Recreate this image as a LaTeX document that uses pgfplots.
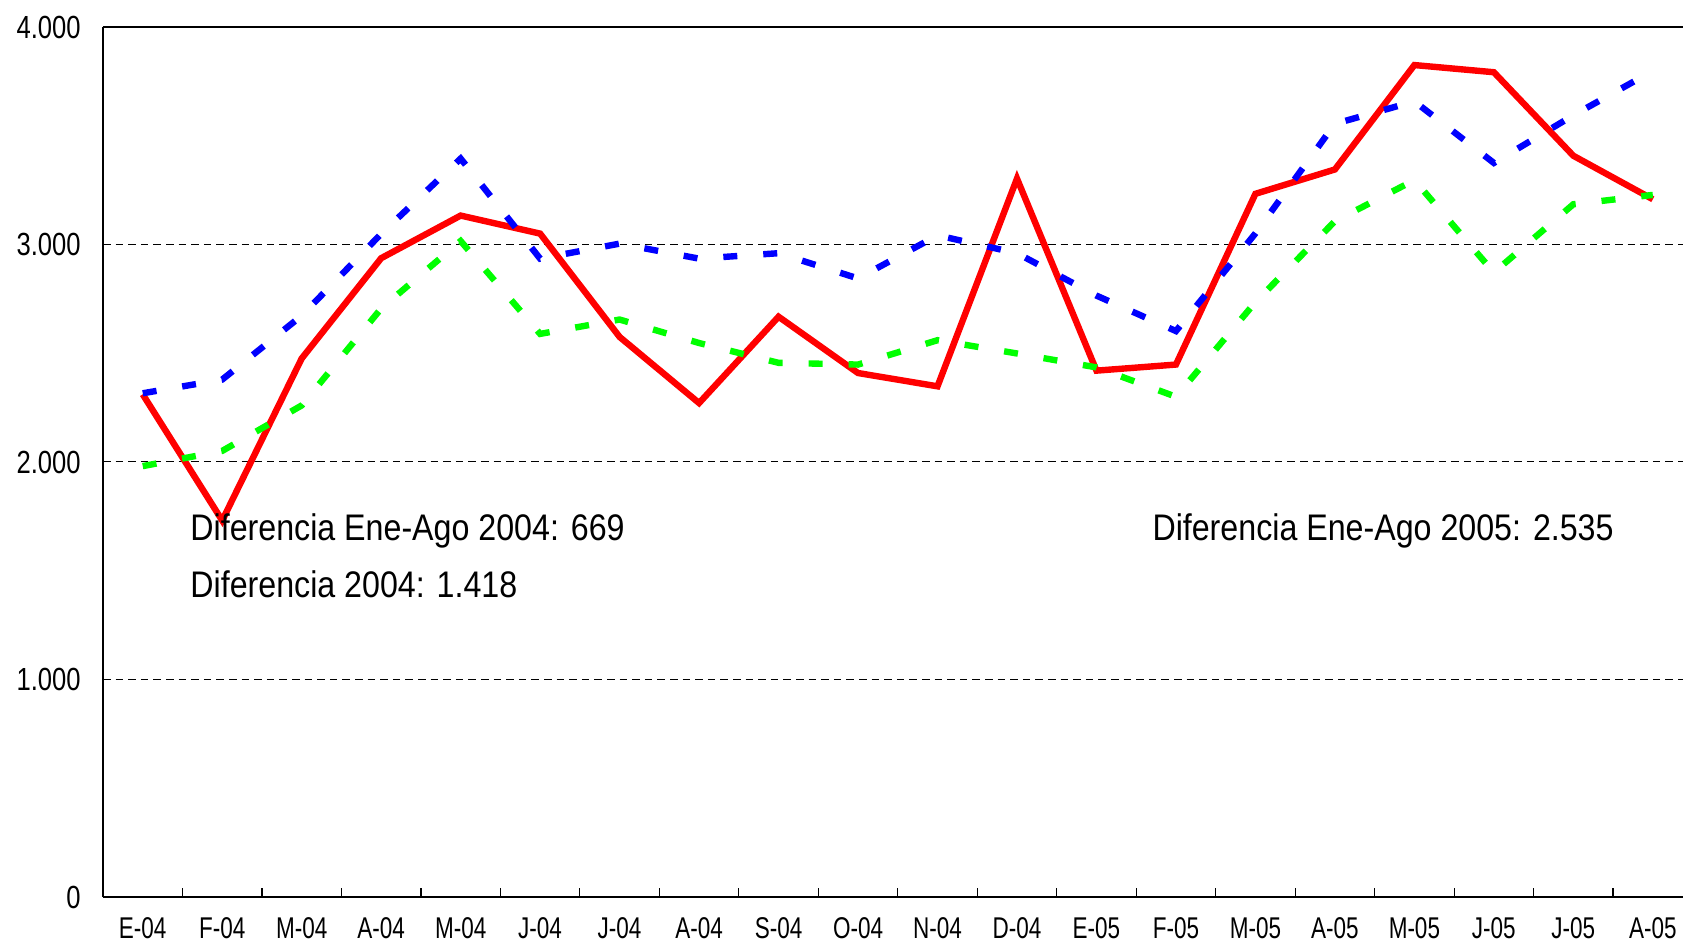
\documentclass[border=0pt]{standalone}
\usepackage{pgfplots}
\pgfplotsset{compat=1.18}
\usepackage{fontspec}
\setmainfont{Liberation Sans}
\newfontfamily\annfont{Liberation Sans}[FakeStretch=0.87]
\newfontfamily\ytickfont{Liberation Sans}[FakeStretch=0.8]
\newfontfamily\xtickfont{Liberation Sans}[FakeStretch=0.75]
\definecolor{cred}{RGB}{255,0,0}
\definecolor{cblue}{RGB}{0,0,255}
\definecolor{cgreen}{RGB}{0,255,0}
\begin{document}
\begin{tikzpicture}
\begin{axis}[
  name=ax,
  scale only axis, width=790pt, height=435pt,
  xmin=-0.5, xmax=19.38, ymin=0, ymax=4000,
  axis x line=box, axis y line=left, axis line style={-},
  x axis line style={line width=1.3pt},
  y axis line style={line width=0.8pt},
  xtick={0,...,19},
  xticklabels={E-04,F-04,M-04,A-04,M-04,J-04,J-04,A-04,S-04,O-04,N-04,D-04,E-05,F-05,M-05,A-05,M-05,J-05,J-05,A-05},
  major x tick style={draw=none},
  minor xtick={0.5,1.5,...,18.5},
  minor x tick style={black, line width=0.6pt},
  minor tick length=4.5pt,
  tick align=inside,
  xtick pos=left,
  ytick pos=left,
  ytick={0,1000,2000,3000,4000},
  yticklabels={0,1.000,2.000,3.000,4.000},
  major y tick style={draw=none},
  ymajorgrids,
  grid style={black, dash pattern=on 3.8pt off 2.5pt, line width=0.5pt},
  yticklabel style={font=\ytickfont\fontsize{16}{16}\selectfont, anchor=east, inner sep=0pt},
  yticklabel shift=11pt,
  xticklabel style={font=\xtickfont\fontsize{15}{15}\selectfont, anchor=north, inner sep=0pt},
  xticklabel shift=10.3pt,
  clip=false,
]
\addplot[cred, line width=3.2pt, line join=miter] coordinates {
(0,2311) (1,1731) (2,2476) (3,2937) (4,3133) (5,3050) (6,2575) (7,2271) (8,2668) (9,2409)
(10,2348) (11,3303) (12,2420) (13,2448) (14,3233) (15,3345) (16,3825) (17,3792) (18,3408) (19,3208)};
\addplot[cblue, line width=3.2pt, dash pattern=on 7pt off 13pt] coordinates {
(0,2316) (1,2379) (2,2673) (3,3049) (4,3395) (5,2935) (6,3004) (7,2935) (8,2960) (9,2844)
(10,3042) (11,2960) (12,2765) (13,2602) (14,3051) (15,3555) (16,3658) (17,3375) (18,3594) (19,3798)};
\addplot[cgreen, line width=3.2pt, dash pattern=on 7pt off 13pt] coordinates {
(0,1981) (1,2051) (2,2260) (3,2706) (4,3016) (5,2589) (6,2655) (7,2547) (8,2456) (9,2448)
(10,2560) (11,2499) (12,2435) (13,2300) (14,2735) (15,3107) (16,3296) (17,2871) (18,3185) (19,3228)};
\node[anchor=base west, inner sep=0pt, font=\annfont\fontsize{18.5}{20}\selectfont] at (axis cs:0.595,1637) {Diferencia Ene-Ago 2004: 669};
\node[anchor=base west, inner sep=0pt, font=\annfont\fontsize{18.5}{20}\selectfont] at (axis cs:0.595,1375) {Diferencia 2004: 1.418};
\node[anchor=base west, inner sep=0pt, font=\annfont\fontsize{18.5}{20}\selectfont] at (axis cs:12.70,1637) {Diferencia Ene-Ago 2005: 2.535};
\end{axis}
\pgfresetboundingbox
\useasboundingbox ([shift={(-51.5pt,-22.5pt)}]ax.south west) rectangle ([shift={(0pt,13.5pt)}]ax.north east);
\end{tikzpicture}
\end{document}
